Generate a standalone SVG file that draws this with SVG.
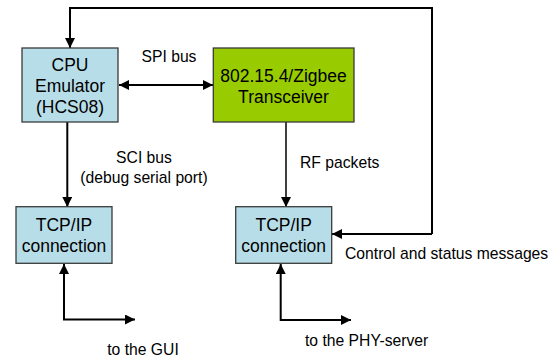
<svg xmlns="http://www.w3.org/2000/svg" width="557" height="357" viewBox="0 0 557 357">
<style>
.box{stroke:#3a3a3a;stroke-width:1.3}
.blue{fill:#b7dee8}
.green{fill:#99cc00}
.bt{font-family:"Liberation Sans",Arial,sans-serif;font-size:17.5px;fill:#000;text-anchor:middle}
.lb{font-family:"Liberation Sans",Arial,sans-serif;font-size:15.7px;fill:#000}
.c{text-anchor:middle}
.ln{fill:none;stroke:#000;stroke-width:2}
</style>
<defs>
<marker id="ah" markerUnits="userSpaceOnUse" markerWidth="10" markerHeight="10" refX="7" refY="3.5" orient="auto-start-reverse" viewBox="0 0 7 7">
<path d="M0,0 L7,3.5 L0,7 Z" fill="#000"/>
</marker>
</defs>
<g id="connectors">
<path class="ln" d="M432,234 L432,8 L70,8 L70,48" marker-end="url(#ah)"/>
<path class="ln" d="M432,234 L332,234" marker-end="url(#ah)"/>
<path class="ln" d="M119,85 L213,85" marker-start="url(#ah)" marker-end="url(#ah)"/>
<path class="ln" d="M67.3,122 L67.3,207" marker-end="url(#ah)"/>
<path class="ln" style="stroke-width:1.5" d="M286,122 L286,207" marker-end="url(#ah)"/>
<path class="ln" d="M135,319.5 L64,319.5 L64,264" marker-start="url(#ah)" marker-end="url(#ah)"/>
<path class="ln" d="M351,320 L280.7,320 L280.7,264" marker-start="url(#ah)" marker-end="url(#ah)"/>
</g>
<g id="cpu">
<rect class="box blue" x="22" y="48" width="96" height="74"/>
<text class="bt" x="70" y="70.5">CPU</text>
<text class="bt" x="70" y="92">Emulator</text>
<text class="bt" x="70" y="113">(HCS08)</text>
</g>
<g id="transceiver">
<rect class="box green" x="213.3" y="48" width="140.7" height="74"/>
<text class="bt" x="283.5" y="81.5">802.15.4/Zigbee</text>
<text class="bt" x="283.5" y="102.5">Transceiver</text>
</g>
<g id="tcp-left">
<rect class="box blue" x="16" y="206.7" width="96" height="56.6"/>
<text class="bt" x="64" y="230.5">TCP/IP</text>
<text class="bt" x="64" y="251.5">connection</text>
</g>
<g id="tcp-right">
<rect class="box blue" x="235.7" y="206.7" width="96" height="56.6"/>
<text class="bt" x="283.7" y="230.5">TCP/IP</text>
<text class="bt" x="283.7" y="251.5">connection</text>
</g>
<g id="labels">
<text class="lb c" x="169" y="62">SPI bus</text>
<text class="lb c" x="144" y="163">SCI bus</text>
<text class="lb c" x="144" y="183">(debug serial port)</text>
<text class="lb" x="300" y="168">RF packets</text>
<text class="lb" x="345" y="259">Control and status messages</text>
<text class="lb c" x="143" y="355">to the GUI</text>
<text class="lb" x="305" y="346">to the PHY-server</text>
</g>
</svg>
